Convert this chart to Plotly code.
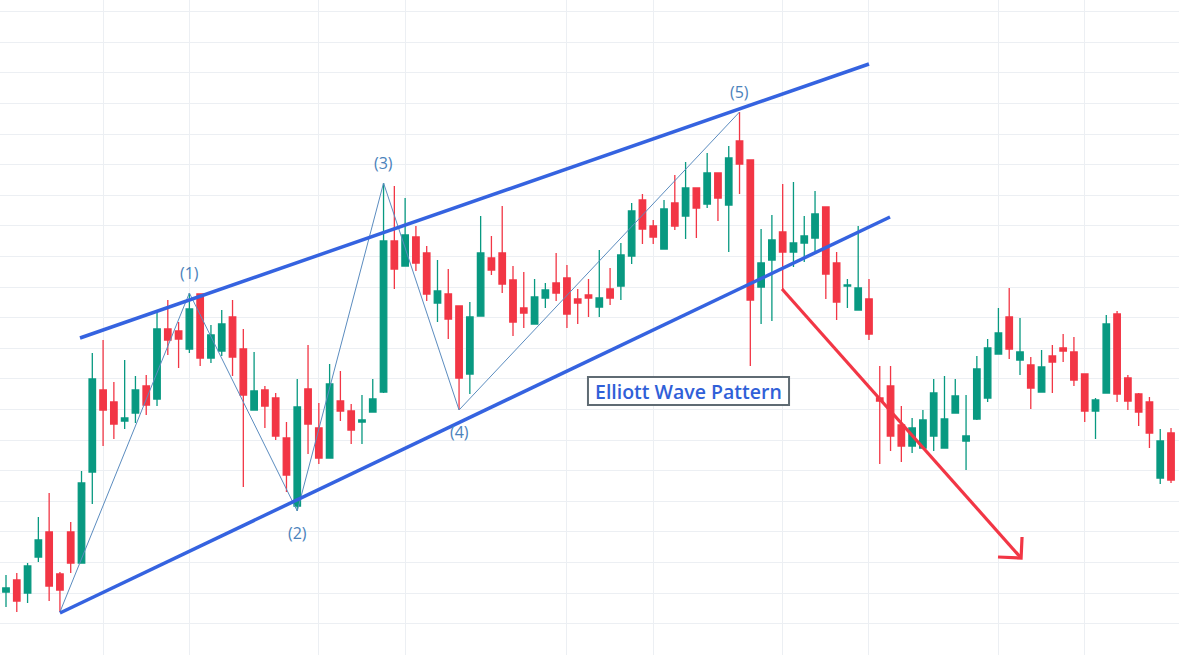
import plotly.graph_objects as go

# ---- candle data (price units) ----
opens = [63,75,62,98,123,81,123,92,183,265,
         253,234,242,269,256,326,324,306,361,297,
         304,338,306,245,265,257,217,149,266,227,
         197,254,244,233,243,263,414,389,418,402,
         352,361,349,281,339,397,402,375,347,331,
         357,372,377,356,360,348,366,369,399,455,
         429,406,452,439,467,451,482,450,514,495,
         368,395,423,403,412,417,448,392,369,345,
         356,257,269,230,209,207,219,207,242,214,
         236,257,301,338,295,290,263,299,307,303,
         281,244,262,341,277,261,253,177,222]
highs = [80,82,92,138,162,83,133,184,302,315,
         273,295,279,280,343,355,333,362,361,330,
         345,355,326,303,269,262,233,276,310,252,
         291,284,251,260,276,472,469,457,429,409,
         395,386,349,353,439,419,449,389,383,376,
         372,402,390,366,376,405,387,412,452,461,
         435,455,480,493,467,502,482,509,543,495,
         426,440,471,473,439,464,448,403,376,429,
         376,289,289,249,237,245,276,279,276,260,
         299,316,347,367,337,298,305,310,321,318,
         281,257,340,344,280,262,258,226,227]
lows = [48,43,52,93,54,43,82,92,151,209,
        216,226,232,240,249,300,287,302,289,292,
        299,279,168,245,227,215,163,144,201,191,
        197,234,211,211,243,262,366,389,384,354,
        333,316,245,261,339,380,362,319,327,331,
        347,354,327,331,338,338,350,355,391,411,
        411,406,425,416,417,447,434,403,461,289,
        331,334,366,388,393,402,356,335,347,345,
        315,191,204,193,202,207,204,207,242,185,
        235,253,301,296,280,246,263,262,293,269,
        233,216,262,253,245,229,207,171,172]
closes = [67,54,89,115,69,65,92,172,276,245,
          231,237,265,250,326,315,316,346,297,320,
          331,298,260,264,249,219,180,248,231,197,
          271,244,225,235,256,414,386,420,392,361,
          364,336,277,338,402,385,371,333,342,358,
          365,362,341,352,357,357,357,400,444,426,
          418,446,429,467,447,482,457,497,491,355,
          392,415,403,412,419,441,381,353,370,367,
          321,254,219,209,227,235,262,236,259,219,
          286,307,322,306,303,267,288,293,304,275,
          244,255,331,261,254,243,222,214,175]
bars = list(range(len(opens)))

# vertical grid positions (bar index)
grid_bars = [9, 17, 29, 37, 52, 60, 72, 80, 92, 100]

# Elliott wave pivots: bar index and whether it is a high or low
wave_bars = [5, 17, 27, 35, 42, 68]
wave_kind = ["low", "high", "low", "high", "low", "high"]
wave_labels = ["", "(1)", "(2)", "(3)", "(4)", "(5)"]

# channel lines (bar index, price)
upper_x = [6.86, 80.0]
upper_y = [317, 591]
lower_x = [5.0, 81.95]
lower_y = [42, 438]

# breakdown arrow
arrow_x = [71.94, 94.1]
arrow_y = [366, 97]
head_x = [91.96, 94.1, 94.19]
head_y = [98, 97, 118]

# label box (bar index / price extents) and text anchor
box_x0, box_x1 = 53.95, 72.59
box_y0, box_y1 = 250, 278
box_text_x, box_text_y = 63.27, 264

GREEN = "#089981"
RED = "#f23645"
BLUE = "#3563e0"
WAVE = "#5b8cbf"

fig = go.Figure()
fig.add_trace(go.Candlestick(
    x=bars, open=opens, high=highs, low=lows, close=closes,
    increasing=dict(line=dict(color=GREEN, width=1.3), fillcolor=GREEN),
    decreasing=dict(line=dict(color=RED, width=1.3), fillcolor=RED),
    whiskerwidth=0, hoverinfo="skip"))

wx = wave_bars
wy = [highs[b] if k == "high" else lows[b] for b, k in zip(wave_bars, wave_kind)]
fig.add_trace(go.Scatter(x=wx, y=wy, mode="lines",
                         line=dict(color=WAVE, width=1), hoverinfo="skip"))
fig.add_trace(go.Scatter(x=upper_x, y=upper_y, mode="lines",
                         line=dict(color=BLUE, width=3.5), hoverinfo="skip"))
fig.add_trace(go.Scatter(x=lower_x, y=lower_y, mode="lines",
                         line=dict(color=BLUE, width=3.5), hoverinfo="skip"))
fig.add_trace(go.Scatter(x=arrow_x, y=arrow_y, mode="lines",
                         line=dict(color=RED, width=3.2), hoverinfo="skip"))
fig.add_trace(go.Scatter(x=head_x, y=head_y, mode="lines",
                         line=dict(color=RED, width=3.2), hoverinfo="skip"))

for b, y, k, t in zip(wx, wy, wave_kind, wave_labels):
    if not t:
        continue
    fig.add_annotation(x=b, y=y, text=t, showarrow=False,
                       yshift=20 if k == "high" else -22,
                       font=dict(family="Open Sans", size=16, color="#4b82bb"))

fig.add_shape(type="rect", xref="x", yref="y", x0=box_x0, x1=box_x1,
              y0=box_y0, y1=box_y1, fillcolor="white",
              line=dict(color="#5f6b73", width=2), layer="above")
fig.add_annotation(x=box_text_x, y=box_text_y, text="Elliott Wave Pattern",
                   showarrow=False,
                   font=dict(family="Open Sans", size=19.5, color="#3060d8", weight=600))

fig.update_layout(
    width=1179, height=655, margin=dict(l=0, r=0, t=0, b=0),
    paper_bgcolor="white", plot_bgcolor="white", showlegend=False,
    boxgap=0.4, boxgroupgap=0,
    xaxis=dict(range=[-0.556, 108.74], tickvals=grid_bars, showticklabels=False,
               showgrid=True, gridcolor="#eceff3", gridwidth=1, zeroline=False,
               showline=False, ticks="", rangeslider=dict(visible=False), fixedrange=True),
    yaxis=dict(range=[0, 655], tick0=62, dtick=30.6, showticklabels=False,
               showgrid=True, gridcolor="#eceff3", gridwidth=1, zeroline=False,
               showline=False, ticks="", fixedrange=True),
)

fig.write_html("out.html", config={"displayModeBar": False},
               post_script="document.body.style.margin='0';document.body.style.padding='0';")
